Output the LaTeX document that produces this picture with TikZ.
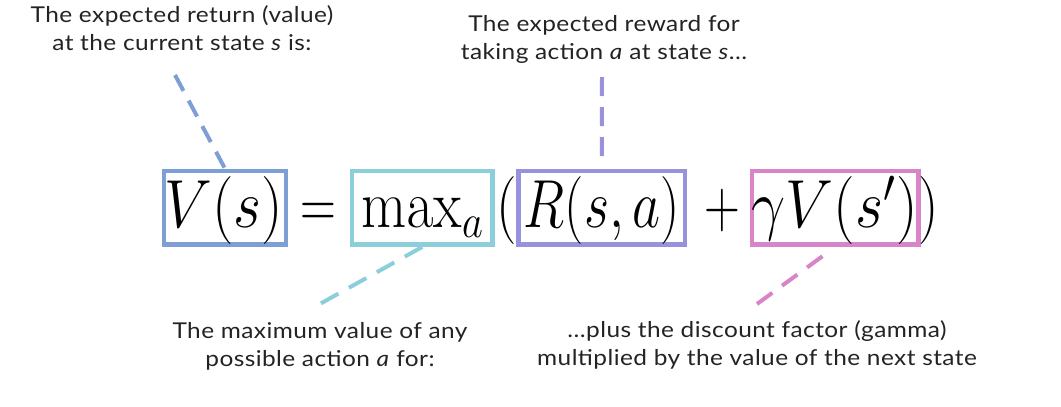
\documentclass[tikz,border=0pt]{standalone}
\usepackage[no-math]{fontspec}
\setmainfont{Lato}[FakeStretch=1.12, LetterSpace=2]
\definecolor{cV}{RGB}{126,159,214}
\definecolor{cM}{RGB}{141,206,219}
\definecolor{cR}{RGB}{152,146,220}
\definecolor{cG}{RGB}{216,132,200}
\definecolor{ink}{RGB}{35,35,35}
\newcommand{\eqpart}[2]{\scalebox{#1}[3.279]{\fontsize{20.74}{20.74}\selectfont$#2$}}
\tikzset{
  ebox/.style={draw, line width=4.8pt, minimum width=#1, minimum height=73.5pt, inner sep=0pt},
  mth/.style={anchor=base, inner sep=0pt},
  lbl/.style={align=center, anchor=base, inner sep=0pt, text=ink, font=\fontsize{21.8}{27.5}\selectfont},
  dashline/.style={line width=4pt, dash pattern=on 18pt off 11pt}
}
\begin{document}
\begin{tikzpicture}[x=1pt,y=-1pt]
\useasboundingbox (0,0) rectangle (1061,407);
% boxes
\node[ebox=122pt, draw=cV] (bV) at (225,207.75) {};
\node[ebox=140.5pt, draw=cM] (bM) at (422.25,207.75) {};
\node[ebox=166.5pt, draw=cR] (bR) at (601.75,207.75) {};
\node[ebox=166.5pt, draw=cG] (bG) at (835.25,207.75) {};
% math
\node[mth] (mV) at (224,227) {\eqpart{2.918}{V(s)}};
\node[mth] (mEq) at (318,227) {\eqpart{2.394}{=}};
\node[mth] (mMax) at (423,227) {\eqpart{2.820}{\max_a}};
\node[mth] (mLp) at (507,227) {\eqpart{2.787}{(}};
\node[mth] (mR) at (602,227) {\eqpart{2.623}{R(s,a)}};
\node[mth] (mPlus) at (722,227) {\eqpart{2.394}{+}};
\node[mth] (mG) at (835,227) {\eqpart{2.93}{\gamma V(s')}};
\node[mth] (mRp) at (929,227) {\eqpart{2.787}{)}};
% labels (anchor base = baseline of last line)
\node[lbl] (l1) at (182,50) {The expected return (value)\\at the current state \textit{s} is:};
\node[lbl] (l2) at (604,59) {The expected reward for\\taking action \textit{a} at state \textit{s}\ldots};
\node[lbl] (l3) at (320,366) {The maximum value of any\\possible action \textit{a} for:};
\node[lbl] (l4) at (757,365) {\ldots plus the discount factor (gamma)\\multiplied by the value of the next state};
% connector ends
\coordinate (c1) at (175,75);
\coordinate (c2) at (602,77);
\coordinate (c3) at (318,305);
\coordinate (c4) at (757,304);
\draw[dashline, cV] (c1) -- (bV.north);
\draw[dashline, cR, dash pattern=on 19pt off 11pt, shorten >=11pt] (c2) -- (bR.north);
\draw[dashline, cM, dash pattern=on 20pt off 12pt] (bM.south) -- (c3);
\draw[dashline, cG, dash pattern=on 19pt off 12pt, shorten >=6pt] (c4) -- (bG.south);
\end{tikzpicture}
\end{document}
